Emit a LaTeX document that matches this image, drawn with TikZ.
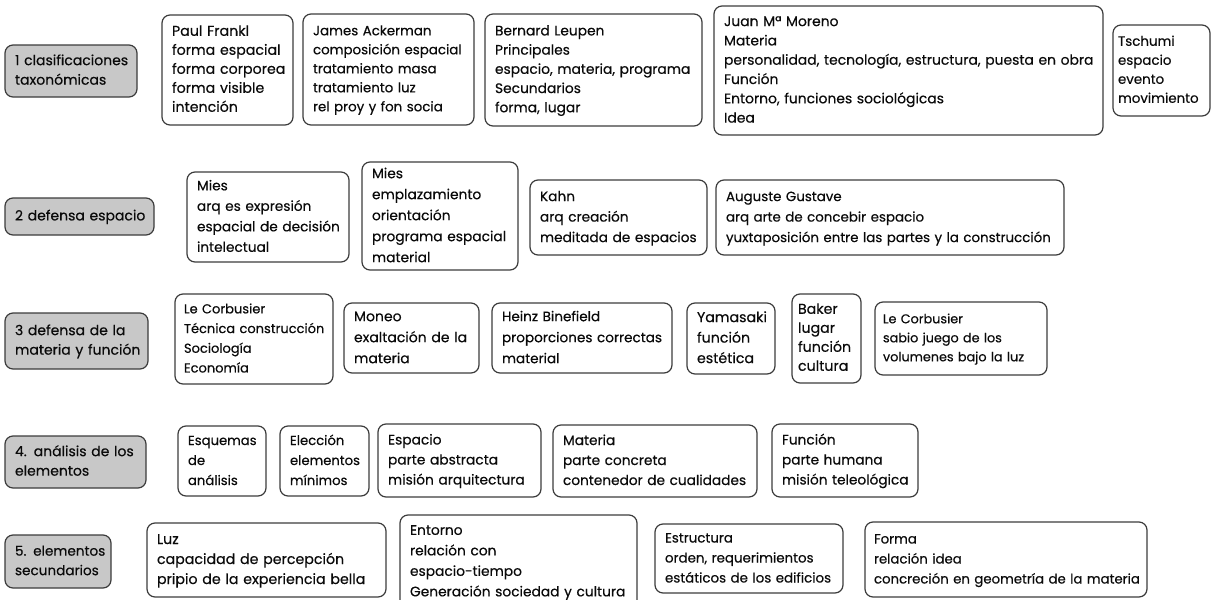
\documentclass[tikz,border=0pt]{standalone}
\usepackage{fontspec}
\setmainfont{Poppins}[FakeBold=0.35]

% ink and fills
\definecolor{ink}{RGB}{10,10,10}
\definecolor{edge}{RGB}{60,60,60}
\definecolor{tagfill}{RGB}{200,200,200}

\tikzset{
  cajabase/.style={draw=edge, line width=1.2pt, rounded corners=8pt,
    inner ysep=1pt, align=left, text=ink,
    font=\fontsize{14}{20}\selectfont},
  cajatema/.style={cajabase, fill=tagfill},
  cajaidea/.style={cajabase, fill=white},
  tam/.style 2 args={font=\fontsize{#1}{#2}\selectfont},
}

% horizontal padding inside a box (pt)
\def\cjpad{10}

% box from its corners (x1,y1)-(x2,y2), y measured downwards
\newcommand{\cajon}[7][]{%
  \pgfmathsetmacro{\cjW}{#5-#3}%
  \pgfmathsetmacro{\cjH}{#6-#4}%
  \pgfmathsetmacro{\cjT}{#5-#3-2*\cjpad}%
  \pgfmathsetmacro{\cjX}{(#3+#5)/2}%
  \pgfmathsetmacro{\cjY}{-(#4+#6)/2}%
  \node[#1, inner xsep=\cjpad pt, minimum width=\cjW pt, minimum height=\cjH pt,
        text width=\cjT pt]
    (#2) at (\cjX pt,\cjY pt) {\begin{tabular}{@{}l@{}}#7\end{tabular}};}

\begin{document}
\begin{tikzpicture}
\useasboundingbox (0,0) rectangle (1211pt,-600pt);

% 1 clasificaciones taxonomicas
\cajon[cajatema, tam={14}{19.5}]{t1}{5}{45}{137}{97}{1 clasificaciones\\taxonómicas}
\cajon[cajaidea, tam={14.2}{19}]{frankl}{162}{15}{293}{125}{Paul Frankl\\forma espacial\\forma corporea\\forma visible\\intención}
\cajon[cajaidea, tam={13.4}{19}]{ackerman}{303}{14}{474}{125}{James Ackerman\\composición espacial\\tratamiento masa\\tratamiento luz\\rel proy y fon socia}
\cajon[cajaidea, tam={13.8}{19.2}]{leupen}{485}{14}{702}{126}{Bernard Leupen\\Principales\\espacio, materia, programa\\Secundarios\\forma, lugar}
\cajon[cajaidea, tam={13.9}{19.3}]{moreno}{714}{6}{1103}{135}{Juan Mª Moreno\\Materia\\personalidad, tecnología, estructura, puesta en obra\\Función\\Entorno, funciones sociológicas\\Idea}
{\def\cjpad{5}%
\cajon[cajaidea, tam={13.4}{19}]{tschumi}{1113}{25}{1210}{116}{Tschumi\\espacio\\evento\\movimiento}}

% 2 defensa espacio
\cajon[cajatema, tam={14}{19.5}]{t2}{5}{198}{154}{235}{2 defensa espacio}
\cajon[cajaidea, tam={13.7}{20.5}]{mies}{187}{172}{349}{262}{Mies\\arq es expresión\\espacial de decisión\\intelectual}
\cajon[cajaidea, tam={13.8}{21}]{miesb}{362}{162}{518}{270}{Mies\\emplazamiento\\orientación\\programa espacial\\material}
\cajon[cajaidea, tam={13.7}{20.5}]{kahn}{530}{180}{707}{255}{Kahn\\arq creación\\meditada de espacios}
\cajon[cajaidea, tam={13.4}{20.5}]{gustave}{716}{180}{1064}{255}{Auguste Gustave\\arq arte de concebir espacio\\yuxtaposición entre las partes y la construcción}

% 3 defensa de la materia y funcion
\cajon[cajatema, tam={14}{19.5}]{t3}{5}{313}{148}{369}{3 defensa de la\\materia y función}
{\def\cjpad{9}%
\cajon[cajaidea, tam={13}{19.7}]{corbu}{175}{294}{333}{384}{Le Corbusier\\Técnica construcción\\Sociología\\Economía}}
\cajon[cajaidea, tam={14}{21}]{moneo}{344}{303}{479}{373}{Moneo\\exaltación de la\\materia}
\cajon[cajaidea, tam={13.6}{21}]{binefield}{492}{303}{672}{373}{Heinz Binefield\\proporciones correctas\\material}
\cajon[cajaidea, tam={14.2}{20.5}]{yamasaki}{687}{303}{775}{374}{Yamasaki\\función\\estética}
{\def\cjpad{6}%
\cajon[cajaidea, tam={14.2}{19}]{baker}{792}{294}{861}{383}{Baker\\lugar\\función\\cultura}}
{\def\cjpad{8}%
\cajon[cajaidea, tam={12.8}{19}]{corbub}{875}{302}{1047}{375}{Le Corbusier\\sabio juego de los\\volumenes bajo la luz}}

% 4 analisis de los elementos
\cajon[cajatema, tam={14}{19.5}]{t4}{5}{436}{146}{488}{4. análisis de los\\elementos}
\cajon[cajaidea, tam={13.2}{20}]{esquemas}{178}{426}{266}{496}{Esquemas\\de\\análisis}
\cajon[cajaidea, tam={13.2}{20}]{eleccion}{280}{426}{369}{496}{Elección\\elementos\\mínimos}
\cajon[cajaidea, tam={13.8}{20}]{espacio}{378}{424}{541}{497}{Espacio\\parte abstracta\\misión arquitectura}
\cajon[cajaidea, tam={13.7}{20}]{materia}{553}{425}{757}{497}{Materia\\parte concreta\\contenedor de cualidades}
\cajon[cajaidea, tam={13.7}{20}]{funcion}{772}{424}{918}{497}{Función\\parte humana\\misión teleológica}

% 5 elementos secundarios
\cajon[cajatema, tam={13.6}{19.5}]{t5}{5}{535}{111}{588}{5. elementos\\secundarios}
\cajon[cajaidea, tam={14.2}{20}]{luz}{147}{523}{386}{597}{Luz\\capacidad de percepción\\pripio de la experiencia bella}
\cajon[cajaidea, tam={13.8}{20.5}]{entorno}{400}{515}{637}{608}{Entorno\\relación con\\espacio-tiempo\\Generación sociedad y cultura}
\cajon[cajaidea, tam={13.4}{20}]{estructura}{655}{524}{843}{593}{Estructura\\orden, requerimientos\\estáticos de los edificios}
{\def\cjpad{9}%
\cajon[cajaidea, tam={13.3}{20}]{forma}{865}{522}{1147}{597}{Forma\\relación idea\\concreción en geometría de la materia}}

\end{tikzpicture}
\end{document}
